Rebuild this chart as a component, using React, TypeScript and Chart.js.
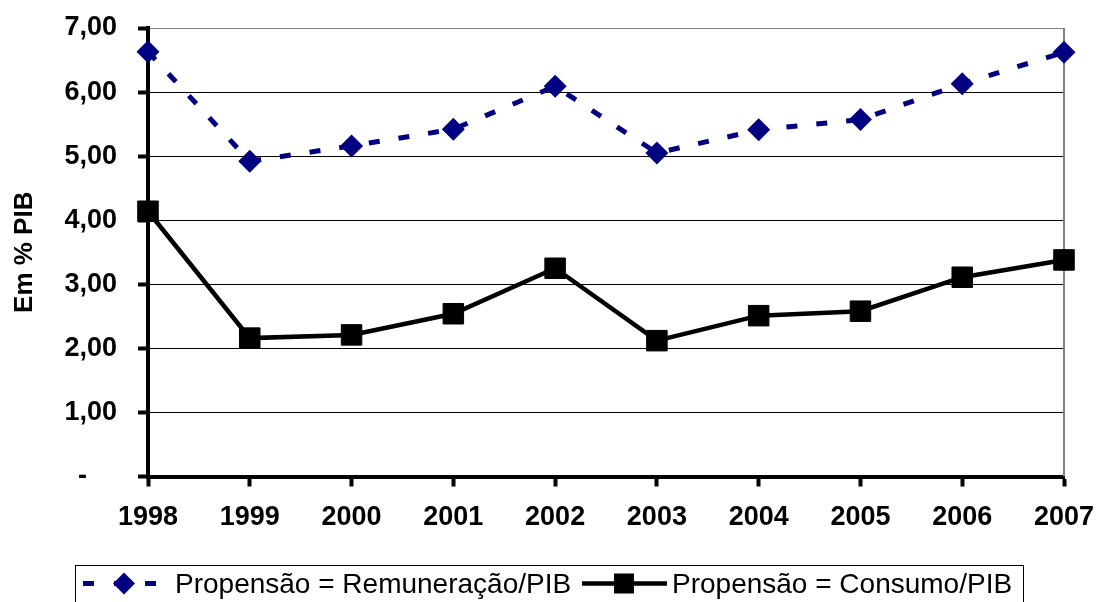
import React, { useEffect, useRef } from "react";
import { Chart, registerables } from "chart.js";

Chart.register(...registerables);

const years = ["1998", "1999", "2000", "2001", "2002", "2003", "2004", "2005", "2006", "2007"];
const remuneracaoPIB = [6.63, 4.92, 5.16, 5.42, 6.09, 5.05, 5.41, 5.57, 6.13, 6.62];
const consumoPIB = [4.14, 2.16, 2.21, 2.54, 3.25, 2.12, 2.51, 2.58, 3.11, 3.38];
const yTickValues = [0, 1, 2, 3, 4, 5, 6, 7];
const seriesLabels = ["Propensão = Remuneração/PIB", "Propensão = Consumo/PIB"];
const yAxisTitle = "Em % PIB";

const FONT = '"Liberation Sans", Arial, sans-serif';
const NAVY = "#000080";

const formatTick = (v: number) => (v === 0 ? "-    " : v.toFixed(2).replace(".", ","));

const zeroPadding = (s: any) => {
  s.paddingTop = 0;
  s.paddingBottom = 0;
  s.paddingLeft = 0;
  s.paddingRight = 0;
};

const framePlugin = {
  id: "frame",
  beforeDatasetsDraw(chart: any) {
    const { ctx, chartArea } = chart;
    ctx.save();
    ctx.strokeStyle = "#808080";
    ctx.lineWidth = 2;
    ctx.beginPath();
    ctx.moveTo(chartArea.right, chartArea.top);
    ctx.lineTo(chartArea.right, chartArea.bottom);
    ctx.stroke();
    ctx.restore();
  },
};

const legendPlugin = {
  id: "customLegend",
  afterDraw(chart: any) {
    const { ctx } = chart;
    const ds = chart.data.datasets;
    ctx.save();
    ctx.strokeStyle = "#000";
    ctx.lineWidth = 1;
    ctx.strokeRect(75.5, 565.5, 948, 60);
    const cy = 583.5;
    ctx.strokeStyle = ds[0].borderColor;
    ctx.lineWidth = 5;
    ctx.setLineDash([11, 20]);
    ctx.beginPath();
    ctx.moveTo(83, cy);
    ctx.lineTo(157, cy);
    ctx.stroke();
    ctx.setLineDash([]);
    ctx.fillStyle = ds[0].pointBackgroundColor;
    ctx.beginPath();
    ctx.moveTo(124, cy - 11);
    ctx.lineTo(135, cy);
    ctx.lineTo(124, cy + 11);
    ctx.lineTo(113, cy);
    ctx.closePath();
    ctx.fill();
    ctx.fillStyle = "#000";
    ctx.font = `28px ${FONT}`;
    ctx.textBaseline = "alphabetic";
    ctx.textAlign = "left";
    ctx.fillText(ds[0].label, 175, 593);
    ctx.strokeStyle = ds[1].borderColor;
    ctx.lineWidth = 4.5;
    ctx.beginPath();
    ctx.moveTo(582, cy);
    ctx.lineTo(667, cy);
    ctx.stroke();
    ctx.fillStyle = ds[1].pointBackgroundColor;
    ctx.fillRect(614, cy - 10, 20, 20);
    ctx.fillStyle = "#000";
    ctx.fillText(ds[1].label, 672, 593);
    ctx.restore();
  },
};

export default function App() {
  const ref = useRef<HTMLCanvasElement>(null);
  useEffect(() => {
    if (!ref.current) return;
    const chart = new Chart(ref.current, {
      type: "line",
      data: {
        labels: years,
        datasets: [
          {
            label: seriesLabels[0],
            data: remuneracaoPIB,
            borderColor: NAVY,
            backgroundColor: NAVY,
            borderWidth: 5,
            borderDash: [11, 19],
            pointStyle: "rectRot",
            pointRadius: 11.5,
            pointBorderWidth: 0,
            pointBackgroundColor: NAVY,
            pointBorderColor: NAVY,
            tension: 0,
            clip: false,
          },
          {
            label: seriesLabels[1],
            data: consumoPIB,
            borderColor: "#000000",
            backgroundColor: "#000000",
            borderWidth: 4.5,
            pointStyle: "rect",
            pointRadius: 14.5,
            pointBorderWidth: 1,
            pointBackgroundColor: "#000000",
            pointBorderColor: "#000000",
            tension: 0,
            clip: false,
          },
        ],
      },
      options: {
        animation: false,
        responsive: false,
        devicePixelRatio: 1,
        layout: { autoPadding: false, padding: { top: 28, right: 33, left: 0, bottom: 0 } },
        plugins: { legend: { display: false }, tooltip: { enabled: false } },
        scales: {
          x: {
            type: "category",
            offset: false,
            afterFit: (s: any) => {
              s.height = 125.5;
              zeroPadding(s);
            },
            grid: {
              display: true,
              drawOnChartArea: false,
              drawTicks: true,
              tickLength: 10,
              tickWidth: 4,
              tickColor: "#000",
            },
            border: { display: true, color: "#000", width: 4 },
            ticks: {
              color: "#000",
              padding: 15,
              maxRotation: 0,
              autoSkip: false,
              font: { family: FONT, size: 27, weight: "bold" },
            },
          },
          y: {
            min: 0,
            max: 7,
            afterFit: (s: any) => {
              s.width = 148;
              zeroPadding(s);
            },
            afterBuildTicks: (s: any) => {
              s.ticks = yTickValues.map((v) => ({ value: v }));
            },
            grid: {
              display: true,
              color: (c: any) => (c.tick && c.tick.value === 7 ? "#808080" : "#000"),
              lineWidth: 1,
              drawTicks: true,
              tickLength: 10,
              tickWidth: 4,
              tickColor: "#000",
            },
            border: { display: true, color: "#000", width: 4 },
            ticks: {
              color: "#000",
              padding: 21,
              font: { family: FONT, size: 27, weight: "bold" },
              callback: (v: any) => formatTick(Number(v)),
            },
            title: {
              display: true,
              text: yAxisTitle,
              color: "#000",
              padding: { top: 9, bottom: 0 },
              font: { family: FONT, size: 26, weight: "bold" },
            },
          },
        },
      },
      plugins: [framePlugin, legendPlugin],
    });
    return () => chart.destroy();
  }, []);
  return (
    <div style={{ position: "absolute", left: 0, top: 0, width: 1097, height: 602, background: "#fff" }}>
      <canvas ref={ref} width={1097} height={602} style={{ display: "block" }} />
    </div>
  );
}
